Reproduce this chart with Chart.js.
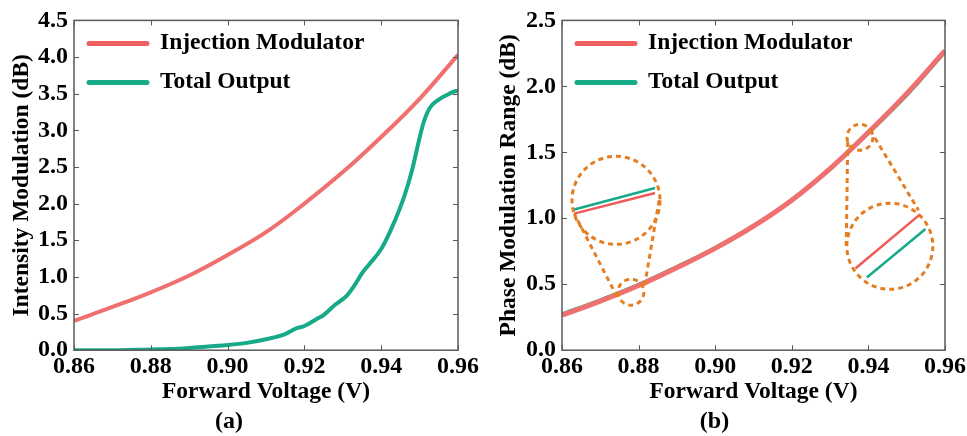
<!DOCTYPE html>
<html lang="en">
<head>
  <meta charset="UTF-8" />
  <title>Forward Voltage Modulation</title>
  <style>
    * { box-sizing: border-box; margin: 0; padding: 0; }
    body { width: 967px; height: 436px; background: #fff; position: relative; overflow: hidden; }
    .panel { position: absolute; top: 0; width: 483px; height: 436px; }
    #panelA { left: 0; }
    #panelB { left: 484px; }
  </style>
</head>
<body>
  <div class="panel" id="panelA"><canvas id="chartA" width="483" height="436"></canvas></div>
  <div class="panel" id="panelB"><canvas id="chartB" width="483" height="436"></canvas></div>

  <script src="https://cdn.jsdelivr.net/npm/chart.js"></script>
  <script>
    // panel (a): intensity modulation
    const voltsA = [0.86, 0.87, 0.88, 0.89, 0.90, 0.91, 0.92, 0.93, 0.94, 0.95, 0.96];
    const injectionA = [0.40, 0.59, 0.79, 1.02, 1.30, 1.61, 2.00, 2.43, 2.91, 3.43, 4.03];
    const voltsTotalA = [0.86, 0.87, 0.88, 0.885, 0.89, 0.895, 0.90, 0.905, 0.91, 0.915, 0.918, 0.92,
      0.923, 0.925, 0.928, 0.931, 0.933, 0.935, 0.937, 0.94, 0.943, 0.946, 0.948, 0.95,
      0.951, 0.952, 0.953, 0.955, 0.957, 0.959, 0.96];
    const totalA = [0.0, 0.0, 0.01, 0.015, 0.03, 0.05, 0.07, 0.10, 0.15, 0.22, 0.30, 0.33,
      0.42, 0.48, 0.62, 0.74, 0.88, 1.05, 1.18, 1.38, 1.70, 2.10, 2.45, 2.90,
      3.10, 3.24, 3.33, 3.42, 3.48, 3.53, 3.54];

    // panel (b): phase modulation range
    const voltsB = [0.86, 0.87, 0.88, 0.89, 0.90, 0.91, 0.92, 0.93, 0.94, 0.95, 0.96];
    const injectionB = [0.265, 0.372, 0.49, 0.626, 0.772, 0.94, 1.137, 1.376, 1.652, 1.945, 2.27];
    const totalB = [0.272, 0.378, 0.495, 0.63, 0.775, 0.942, 1.138, 1.376, 1.648, 1.935, 2.265];

    // zoom-in callouts of panel (b), in data units
    const calloutCircles = [[0.878, 0.44, 13], [0.8741, 1.136, 44], [0.9378, 1.614, 13], [0.9456, 0.788, 43]];
    const calloutConnectors = [[0.8744, 0.404, 0.8632, 1.035], [0.8816, 0.492, 0.8855, 1.161],
      [0.9346, 1.578, 0.9342, 0.770], [0.9405, 1.667, 0.9531, 1.061]];
    const calloutInjection = [[0.8632, 1.035, 0.8843, 1.192], [0.9366, 0.619, 0.9534, 1.028]];
    const calloutTotal = [[0.8632, 1.066, 0.8843, 1.229], [0.9396, 0.551, 0.9549, 0.919]];

    const seriesNames = ['Injection Modulator', 'Total Output'];

    const RED = '#f07070';
    const GREEN = '#17aa88';
    const ORANGE = '#e57e22';
    const FONT = "'Liberation Serif', 'Times New Roman', serif";

    function pts(xs, ys) {
      return xs.map((x, i) => ({ x: x, y: ys[i] }));
    }

    // frame + inward ticks on all four sides
    const framePlugin = {
      id: 'frame',
      afterDraw(chart) {
        const { ctx, chartArea: a, scales } = chart;
        ctx.save();
        ctx.strokeStyle = '#5a5a5a';
        ctx.lineWidth = 1;
        scales.x.ticks.forEach(t => {
          const px = Math.round(scales.x.getPixelForValue(t.value)) + 0.5;
          ctx.beginPath();
          ctx.moveTo(px, a.bottom); ctx.lineTo(px, a.bottom - 5);
          ctx.moveTo(px, a.top); ctx.lineTo(px, a.top + 5);
          ctx.stroke();
        });
        scales.y.ticks.forEach(t => {
          const py = Math.round(scales.y.getPixelForValue(t.value)) + 0.5;
          ctx.beginPath();
          ctx.moveTo(a.left, py); ctx.lineTo(a.left + 5, py);
          ctx.moveTo(a.right, py); ctx.lineTo(a.right - 5, py);
          ctx.stroke();
        });
        ctx.lineWidth = 1.5;
        ctx.strokeRect(a.left, a.top, a.right - a.left, a.bottom - a.top);
        ctx.restore();
      }
    };

    // legend inside the plot, top-left
    const legendPlugin = {
      id: 'innerLegend',
      afterDraw(chart) {
        const { ctx, chartArea: a } = chart;
        ctx.save();
        ctx.font = "bold 23.5px " + FONT;
        ctx.textBaseline = 'middle';
        ctx.fillStyle = '#000';
        chart.data.datasets.forEach((ds, i) => {
          const y = a.top + 23 + i * 39;
          ctx.strokeStyle = i === 0 ? '#ee5f5f' : GREEN;
          ctx.lineWidth = 5;
          ctx.lineCap = 'round';
          ctx.beginPath();
          ctx.moveTo(a.left + 15, y);
          ctx.lineTo(a.left + 73, y);
          ctx.stroke();
          ctx.fillText(ds.label, a.left + 86, y);
        });
        ctx.restore();
      }
    };

    const calloutPlugin = {
      id: 'callout',
      afterDatasetsDraw(chart, args, opts) {
        if (!opts.show) return;
        const { ctx, scales: { x, y } } = chart;
        const seg = (list, color, dash) => {
          ctx.strokeStyle = color;
          ctx.setLineDash(dash);
          list.forEach(s => {
            ctx.beginPath();
            ctx.moveTo(x.getPixelForValue(s[0]), y.getPixelForValue(s[1]));
            ctx.lineTo(x.getPixelForValue(s[2]), y.getPixelForValue(s[3]));
            ctx.stroke();
          });
        };
        ctx.save();
        ctx.lineWidth = 3;
        ctx.strokeStyle = ORANGE;
        ctx.setLineDash([5, 4]);
        calloutCircles.forEach(c => {
          ctx.beginPath();
          ctx.arc(x.getPixelForValue(c[0]), y.getPixelForValue(c[1]), c[2], 0, Math.PI * 2);
          ctx.stroke();
        });
        seg(calloutConnectors, ORANGE, [5, 4]);
        ctx.lineWidth = 2.5;
        seg(calloutTotal, GREEN, []);
        seg(calloutInjection, '#ee5a5a', []);
        ctx.restore();
      }
    };

    function makeChart(id, cfg) {
      return new Chart(document.getElementById(id), {
        type: 'line',
        data: {
          datasets: [
            { label: seriesNames[0], data: cfg.injection, borderColor: RED, backgroundColor: RED,
              borderWidth: cfg.redWidth, pointRadius: 0, tension: 0.4, order: cfg.redOrder },
            { label: seriesNames[1], data: cfg.total, borderColor: GREEN, backgroundColor: GREEN,
              borderWidth: 4, pointRadius: 0, tension: 0.4, cubicInterpolationMode: cfg.greenMode, order: 1 }
          ]
        },
        options: {
          responsive: false,
          animation: false,
          layout: { padding: { top: 20, right: cfg.padRight, left: 0, bottom: 0 } },
          scales: {
            x: {
              type: 'linear', min: 0.86, max: 0.96,
              afterFit(s) { s.height = 57; s.paddingLeft = 0; s.paddingRight = 0; },
              grid: { display: false, drawTicks: false },
              border: { display: false },
              ticks: { stepSize: 0.02, padding: 2, color: '#000', font: { family: FONT, size: 24, weight: 'bold' },
                callback: v => v.toFixed(2) },
              title: { display: true, text: 'Forward Voltage (V)', color: '#000', padding: { top: 0, bottom: 1 },
                font: { family: FONT, size: 23.5, weight: 'bold', lineHeight: 1.2 } }
            },
            y: {
              min: 0, max: cfg.yMax,
              afterFit(s) { s.width = cfg.yWidth; },
              grid: { display: false, drawTicks: false },
              border: { display: false },
              ticks: { stepSize: 0.5, padding: 6, color: '#000', font: { family: FONT, size: 24, weight: 'bold' },
                callback: v => v.toFixed(1) },
              title: { display: true, text: cfg.yTitle, color: '#000', padding: { top: cfg.yTitlePad, bottom: 0 },
                font: { family: FONT, size: 23.5, weight: 'bold', lineHeight: 1.2 } }
            }
          },
          plugins: {
            legend: { display: false },
            title: {
              display: true, position: 'bottom', text: cfg.label, color: '#000',
              padding: { top: 0, bottom: 0 },
              font: { family: FONT, size: 24, weight: 'bold', lineHeight: 1.2 }
            },
            tooltip: { enabled: false },
            callout: { show: cfg.callout }
          }
        },
        plugins: [framePlugin, calloutPlugin, legendPlugin]
      });
    }

    makeChart('chartA', {
      injection: pts(voltsA, injectionA), total: pts(voltsTotalA, totalA),
      yMax: 4.5, yTitle: 'Intensity Modulation (dB)', label: '(a)', greenMode: 'monotone',
      yWidth: 74, yTitlePad: 8, padRight: 25, callout: false, redOrder: 2, redWidth: 4
    });

    makeChart('chartB', {
      injection: pts(voltsB, injectionB), total: pts(voltsB, totalB),
      yMax: 2.5, yTitle: 'Phase Modulation Range (dB)', label: '(b)', greenMode: 'default',
      yWidth: 78, yTitlePad: 11, padRight: 22, callout: true, redOrder: 0, redWidth: 5
    });
  </script>
</body>
</html>
